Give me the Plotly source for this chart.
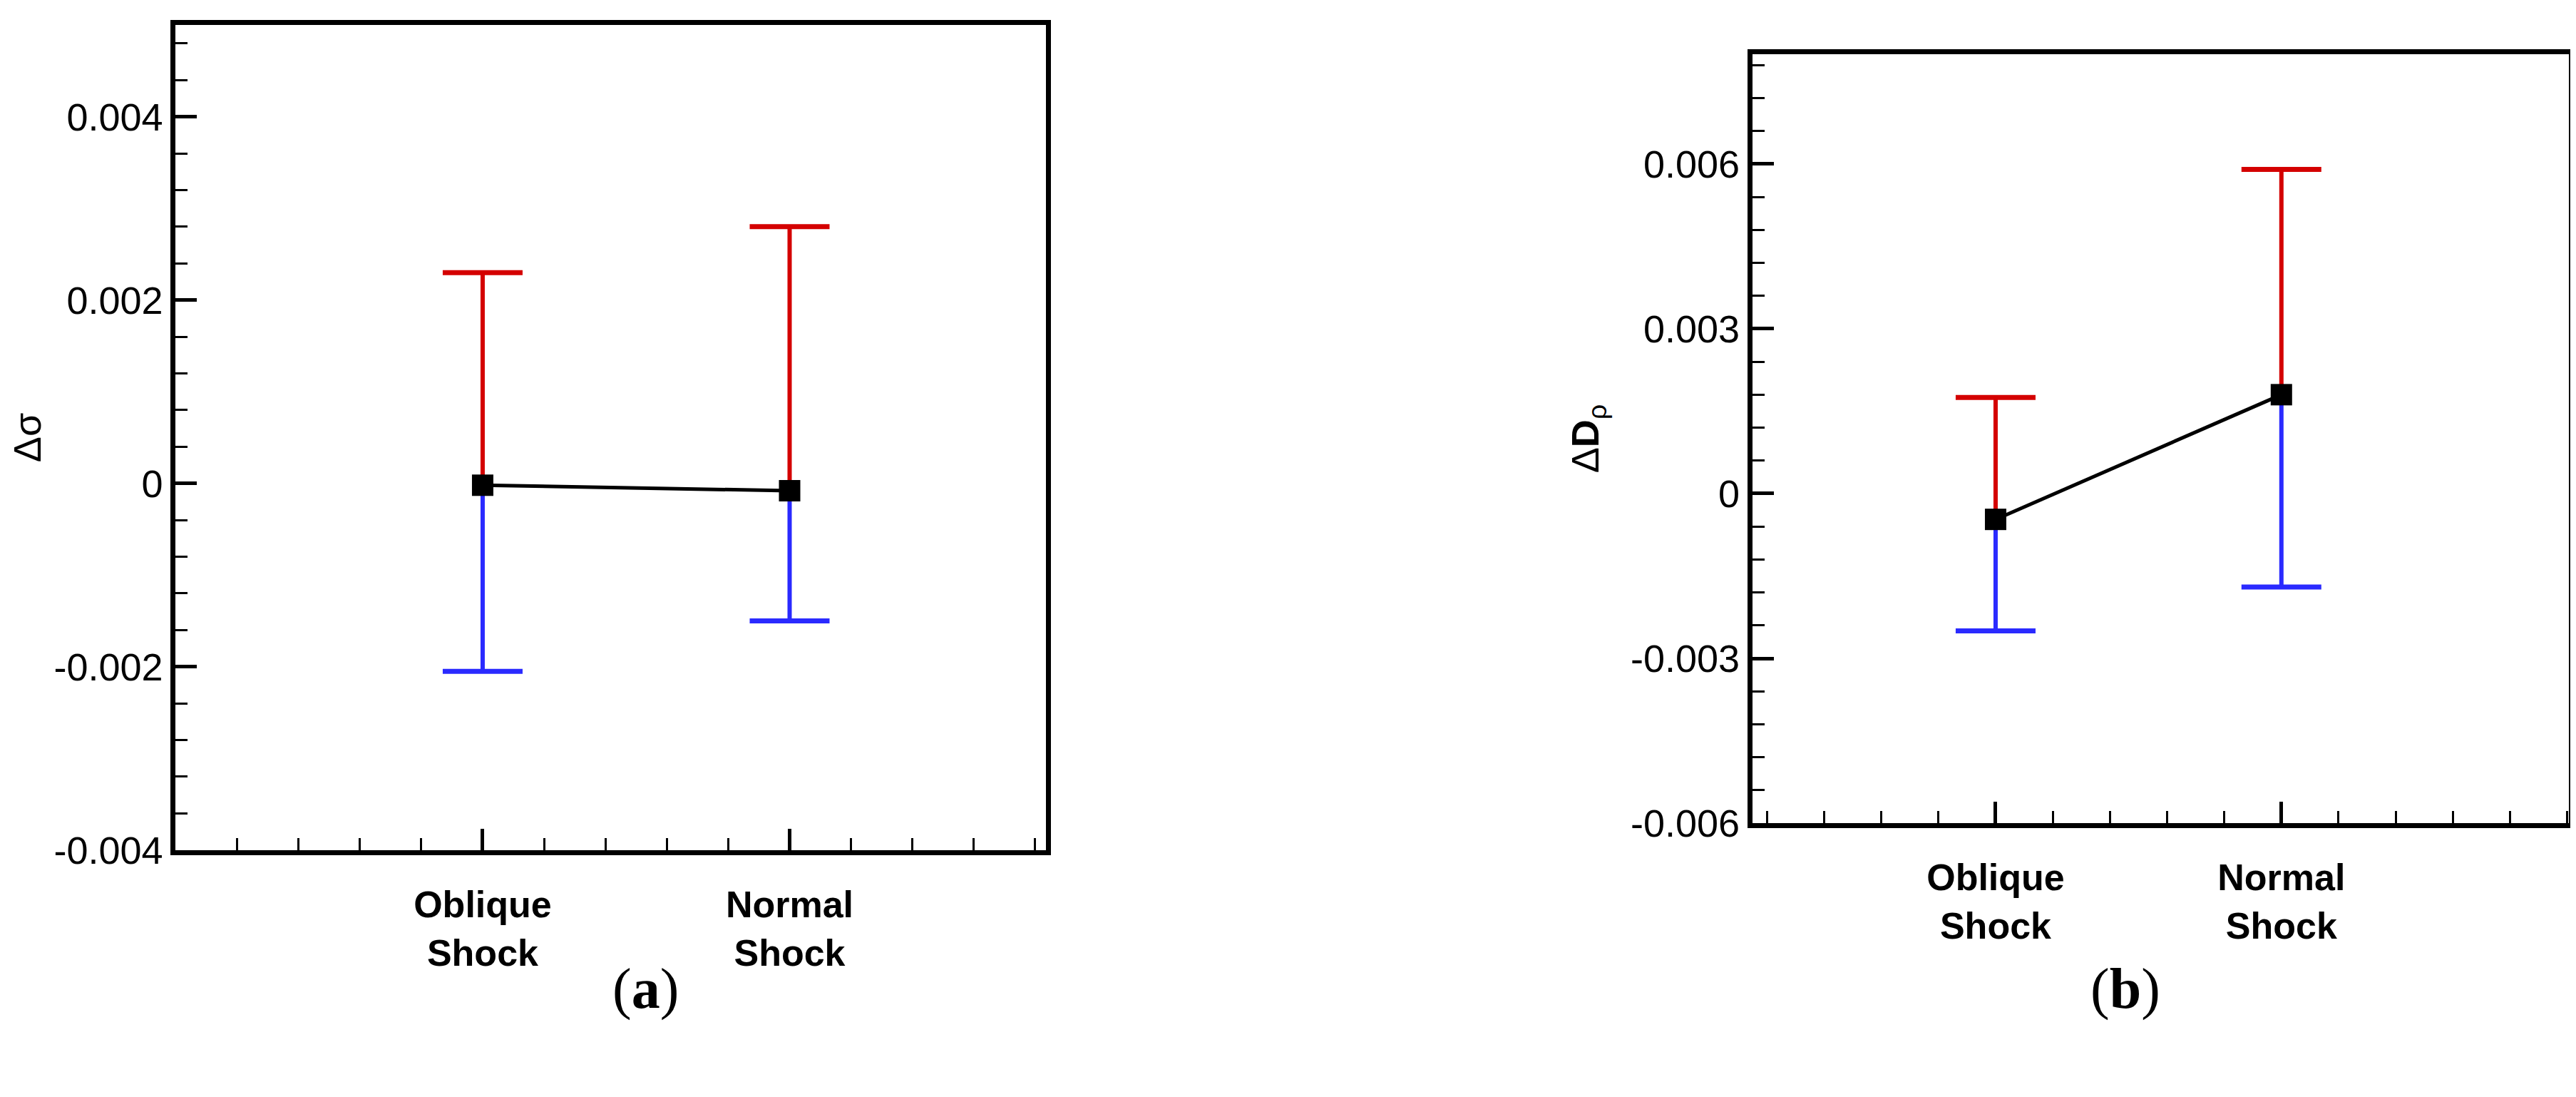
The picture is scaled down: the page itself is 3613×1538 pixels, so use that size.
import plotly.graph_objects as go

cats = ["Oblique<br>Shock", "Normal<br>Shock"]
xa = [2, 3]
mean_a = [-0.00002, -0.00008]
up_a = [0.0023, 0.0028]
lo_a = [-0.00205, -0.0015]
xb = [1, 2]
mean_b = [-0.00047, 0.0018]
up_b = [0.00175, 0.0059]
lo_b = [-0.0025, -0.0017]
yt_a = [-0.004, -0.002, 0, 0.002, 0.004]
yl_a = ["-0.004", "-0.002", "0", "0.002", "0.004"]
yt_b = [-0.006, -0.003, 0, 0.003, 0.006]
yl_b = ["-0.006", "-0.003", "0", "0.003", "0.006"]

RED = "#d40000"
BLUE = "#2a2aff"
fig = go.Figure()

def seg(x, a, b):
    xs, ys = [], []
    for xi, ai, bi in zip(x, a, b):
        xs += [xi, xi, None]
        ys += [ai, bi, None]
    return xs, ys

def add(x, m, up, lo, xref, yref):
    for ends, col in ((up, RED), (lo, BLUE)):
        xs, ys = seg(x, m, ends)
        fig.add_trace(go.Scatter(x=xs, y=ys, mode="lines", line=dict(color=col, width=6),
                                 xaxis=xref, yaxis=yref, showlegend=False))
        fig.add_trace(go.Scatter(x=x, y=ends, mode="markers",
                                 marker=dict(symbol="line-ew", size=80, line=dict(color=col, width=7)),
                                 xaxis=xref, yaxis=yref, showlegend=False))
    fig.add_trace(go.Scatter(x=x, y=m, mode="lines+markers",
        line=dict(color="black", width=5), marker=dict(symbol="square", size=30, color="black"),
        xaxis=xref, yaxis=yref, showlegend=False))

add(xa, mean_a, up_a, lo_a, "x", "y")
add(xb, mean_b, up_b, lo_b, "x2", "y2")

tickfont = dict(family="Liberation Sans", size=54, color="black")
catfont = dict(family="Liberation Sans Narrow, Liberation Sans", size=52, color="black")
common = dict(showline=True, linecolor="black", linewidth=7, mirror=True, ticks="inside",
              tickwidth=5, ticklen=30, tickcolor="black", showgrid=False, zeroline=False)

def xax(rng, vals, dom):
    return dict(common, range=rng, tickmode="array", tickvals=vals,
                ticktext=["<b>%s</b>" % c for c in cats], tickfont=catfont, domain=dom,
                ticklabelstandoff=25,
                minor=dict(ticks="inside", ticklen=17, tickwidth=3, tickcolor="black",
                           tickmode="linear", tick0=0, dtick=0.2, showgrid=False))

def yax(rng, vals, labs, mdt, dom, title):
    return dict(common, range=rng, tickmode="array", tickvals=vals, ticktext=labs,
                tickfont=tickfont, domain=dom,
                title=dict(text=title, font=dict(family="Liberation Sans", size=54, color="black"), standoff=30),
                minor=dict(ticks="inside", ticklen=17, tickwidth=3, tickcolor="black",
                           tickmode="linear", tick0=0, dtick=mdt, showgrid=False))

fig.update_layout(
    width=3613, height=1538, paper_bgcolor="white", plot_bgcolor="white",
    margin=dict(l=0, r=0, t=0, b=0),
    xaxis=xax([1, 3.835], xa, [0.060, 0.400]),
    yaxis=yax([-0.004, 0.005], yt_a, yl_a, 0.0004, [0.215, 0.982], "Δσ"),
    xaxis2=dict(xax([0.149, 3.006], xb, [0.676, 0.995]), anchor="y2"),
    yaxis2=dict(yax([-0.006, 0.008], yt_b, yl_b, 0.0006, [0.240, 0.955], "Δ<b>D</b><sub>ρ</sub>"), anchor="x2"),
    annotations=[
        dict(text="(<b>a</b>)", x=0.230, y=0.055, xref="paper", yref="paper", showarrow=False,
             font=dict(family="Liberation Serif", size=80, color="black")),
        dict(text="(<b>b</b>)", x=0.836, y=0.055, xref="paper", yref="paper", showarrow=False,
             font=dict(family="Liberation Serif", size=80, color="black")),
    ],
)
fig.write_html("out.html")
